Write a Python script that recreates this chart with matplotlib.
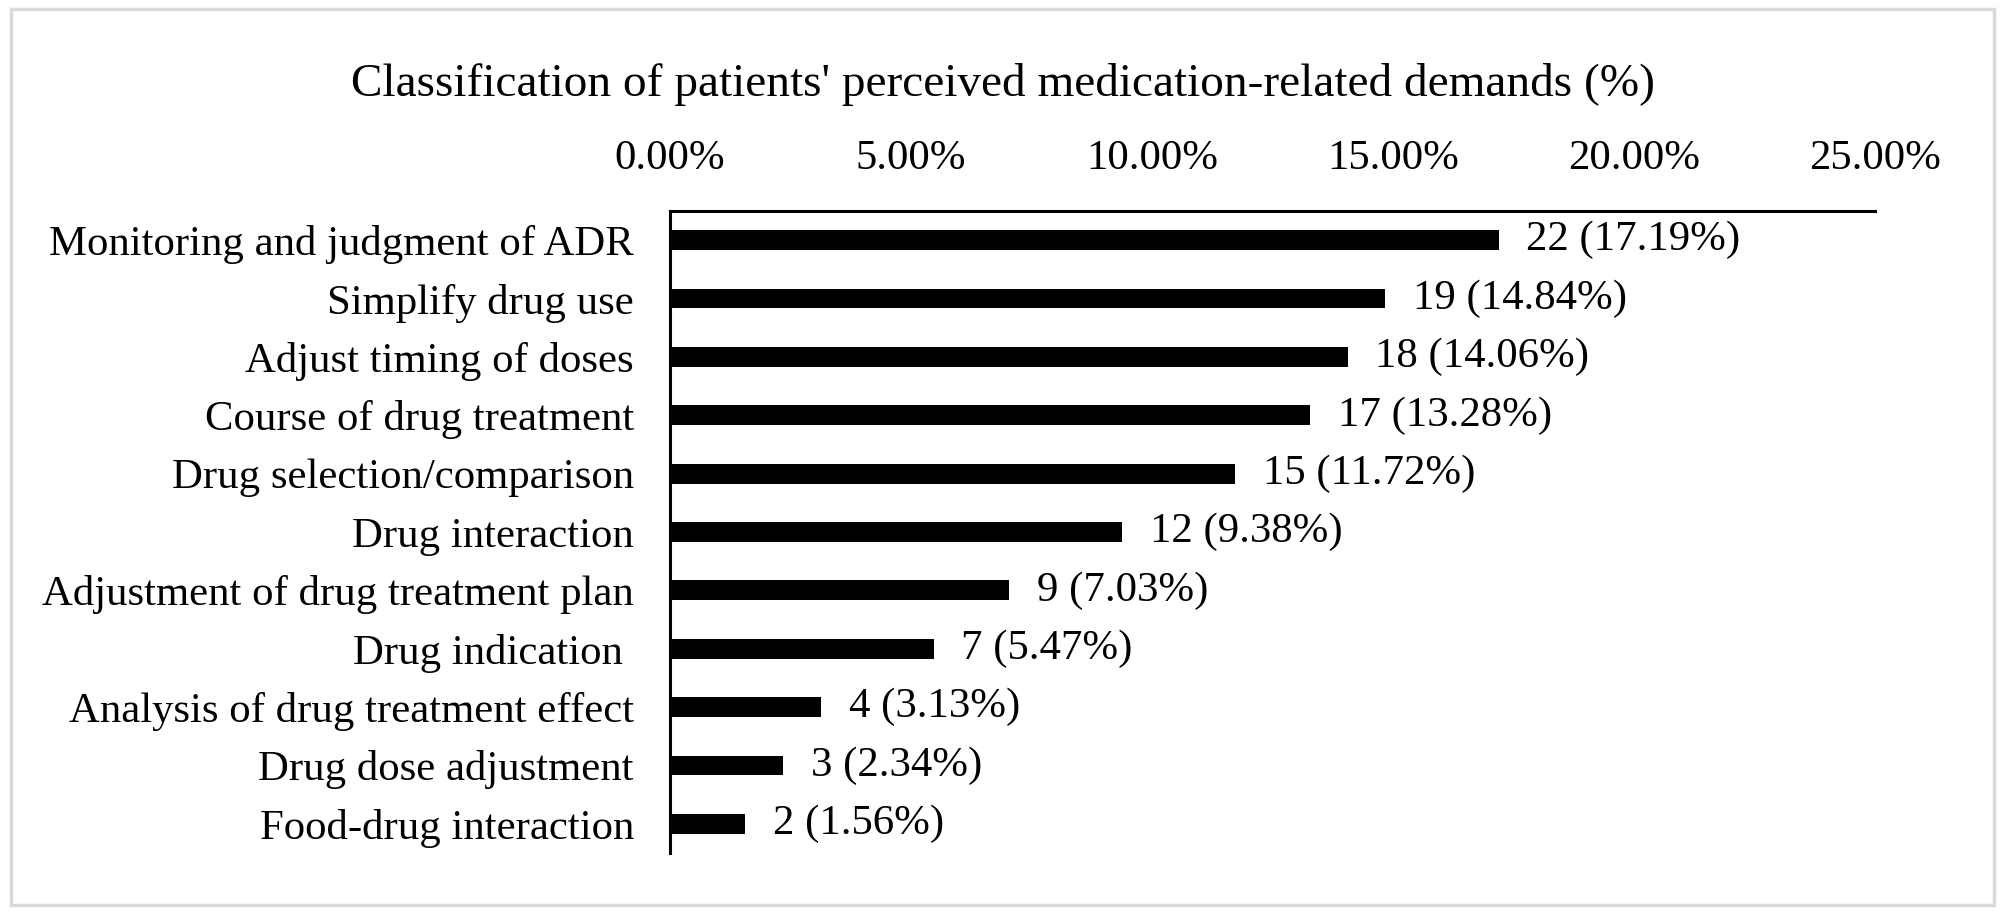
import matplotlib.pyplot as plt
from matplotlib.patches import Rectangle

# data
categories = [
    "Monitoring and judgment of ADR",
    "Simplify drug use",
    "Adjust timing of doses",
    "Course of drug treatment",
    "Drug selection/comparison",
    "Drug interaction",
    "Adjustment of drug treatment plan",
    "Drug indication ",
    "Analysis of drug treatment effect",
    "Drug dose adjustment",
    "Food-drug interaction",
]
counts = [22, 19, 18, 17, 15, 12, 9, 7, 4, 3, 2]
percents = [17.19, 14.84, 14.06, 13.28, 11.72, 9.38, 7.03, 5.47, 3.13, 2.34, 1.56]
xticks = [0, 5, 10, 15, 20, 25]

plt.rcParams['font.family'] = ['Liberation Serif', 'DejaVu Serif']
fs = 30.8

fig = plt.figure(figsize=(20.08, 9.17), dpi=100)
ax = fig.add_axes([670/2008, 1 - 853/917, 1205/2008, 642/917])

ypos = list(range(len(categories)))
ax.barh(ypos, percents, height=0.34, color='black')

for y, c, p in zip(ypos, counts, percents):
    ax.annotate(f"{c} ({p:.2f}%)", (p, y), xytext=(20, 0), textcoords='offset points',
                va='center', ha='left', fontsize=fs)

ax.set_xlim(0, 25)
ax.set_ylim(len(categories) - 0.5, -0.5)
ax.set_yticks(ypos)
ax.set_yticklabels(categories, fontsize=fs)
ax.set_xticks(xticks)
ax.set_xticklabels([f"{t:.2f}%" for t in xticks], fontsize=fs)
ax.xaxis.tick_top()
ax.tick_params(axis='x', length=0, pad=24)
ax.tick_params(axis='y', length=0, pad=26)

for s in ['right', 'bottom']:
    ax.spines[s].set_visible(False)
for s in ['left', 'top']:
    ax.spines[s].set_linewidth(2.2)

fig.text(0.4995, 1 - 84/917, "Classification of patients' perceived medication-related demands (%)",
         ha='center', va='center', fontsize=34)

# light grey frame around the figure
fig.patches.append(Rectangle((11/2008, 1 - 905/917), 1983/2008, 896/917,
                             transform=fig.transFigure, fill=False,
                             edgecolor='#d9d9d9', linewidth=2.5))

fig.savefig("out.png", dpi=100)
